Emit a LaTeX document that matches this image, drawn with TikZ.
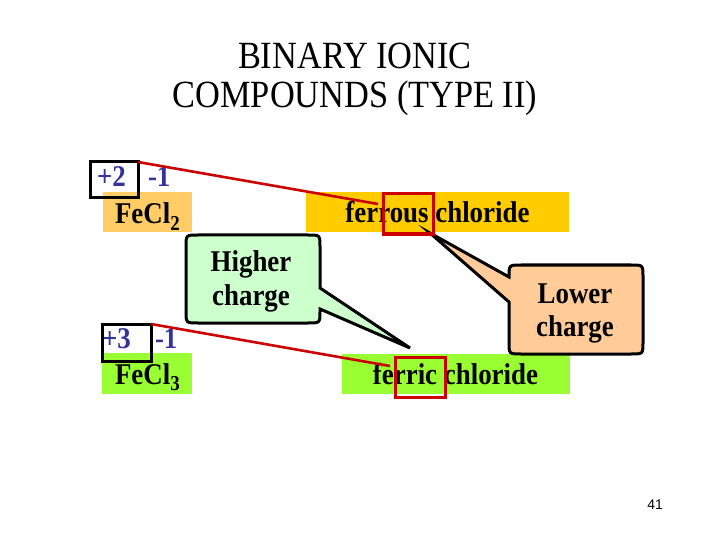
\documentclass[tikz,border=0pt]{standalone}
\usepackage{fontspec}
\usepackage{graphicx}
\setmainfont{Liberation Serif}
\newfontfamily\pagenumfont{Liberation Sans}
\definecolor{navytext}{HTML}{333399}
\definecolor{fetwofill}{HTML}{FFCC66}
\definecolor{ferrousfill}{HTML}{FFCC00}
\definecolor{limefill}{HTML}{99FF33}
\definecolor{mintfill}{HTML}{CCFFCC}
\definecolor{peachfill}{HTML}{FFCC99}
\definecolor{markred}{HTML}{CC0000}
\newcommand{\vs}[1]{\scalebox{1}[1.12]{#1}}
\newcommand{\subdig}[1]{\raisebox{-6bp}{\fontsize{19}{19}\selectfont #1}}
\begin{document}
\begin{tikzpicture}[x=1bp,y=-1bp,
  every node/.style={inner sep=0pt, outer sep=0pt},
  fillbox/.style={anchor=north west, draw=none},
  body/.style={font=\fontsize{27}{30}\selectfont\bfseries},
  charge/.style={body, text=navytext, anchor=base west},
  titletext/.style={font=\fontsize{34.5}{39}\selectfont, anchor=base},
  blackbox/.style={draw=black, line width=3bp, anchor=north west},
  redbox/.style={draw=markred, line width=3bp, anchor=north west},
  redline/.style={draw=markred, line width=2.6bp},
  callout/.style={draw=black, line width=3bp, line join=miter}
]
\useasboundingbox (0,0) rectangle (720,540);

% title
\node[titletext] (t1) at (355,69) {\vs{BINARY IONIC}};
\node[titletext] (t2) at (355,108) {\vs{COMPOUNDS (TYPE II)}};

% coloured fills
\node[fillbox, fill=fetwofill, minimum width=89bp, minimum height=40bp] (f2) at (103,192) {};
\node[fillbox, fill=ferrousfill, minimum width=263bp, minimum height=40bp] (fous) at (306,192) {};
\node[fillbox, fill=limefill, minimum width=90bp, minimum height=41bp] (f3) at (102,353) {};
\node[fillbox, fill=limefill, minimum width=228bp, minimum height=40bp] (fic) at (342,354) {};

% formula texts
\node[charge] (c2) at (97,187) {\vs{+2}};
\node[charge] (a2) at (148,187) {\vs{-1}};
\node[body, anchor=base west] (fe2) at (115,224) {\vs{FeCl\subdig{2}}};
\node[charge] (c3) at (102,348) {\vs{+3}};
\node[charge] (a3) at (155,348) {\vs{-1}};
\node[body, anchor=base west] (fe3) at (115,384) {\vs{FeCl\subdig{3}}};

\node[body, anchor=base] (ous) at (437.5,223) {\vs{ferrous chloride}};
\node[body, anchor=base] (ic) at (455.5,384) {\vs{ferric chloride}};

% callouts
\coordinate (hightip) at (410,348);
\coordinate (lowtip) at (430,233);
\draw[callout, fill=mintfill]
  (198,235) -- (308,235) .. controls (320,235) .. (320,247)
  -- (320,288) -- (hightip) -- (320,309) -- (320,311)
  .. controls (320,323) .. (308,323) -- (198,323)
  .. controls (186,323) .. (186,311) -- (186,247)
  .. controls (186,235) .. (198,235) -- cycle;
\node[body, anchor=base] (h1) at (251,272) {\vs{Higher}};
\node[body, anchor=base] (h2) at (251,305) {\vs{charge}};

\draw[callout, fill=peachfill]
  (521,265) -- (631,265) .. controls (643,265) .. (643,277)
  -- (643,342) .. controls (643,354) .. (631,354) -- (521,354)
  .. controls (509,354) .. (509,342) -- (509,302) -- (lowtip)
  -- (509,277) .. controls (509,265) .. (521,265) -- cycle;
\node[body, anchor=base] (l1) at (575,303) {\vs{Lower}};
\node[body, anchor=base] (l2) at (575,336) {\vs{charge}};

% boxes around charges and word parts
\node[blackbox, minimum width=48bp, minimum height=36bp] (ox2) at (90,162) {};
\node[blackbox, minimum width=49bp, minimum height=37bp] (ox3) at (102,324) {};
\node[redbox, minimum width=50bp, minimum height=40bp] (rb1) at (383,194) {};
\node[redbox, minimum width=50bp, minimum height=40bp] (rb2) at (395,357) {};

% red connecting lines
\coordinate (e1) at (378,204);
\coordinate (e2) at (390,366);
\draw[redline] (ox2.north east) -- (e1);
\draw[redline] (ox3.north east) -- (e2);

% page number
\node[font=\pagenumfont\fontsize{14}{14}\selectfont, anchor=base] (pg) at (655,509) {41};
\end{tikzpicture}
\end{document}
